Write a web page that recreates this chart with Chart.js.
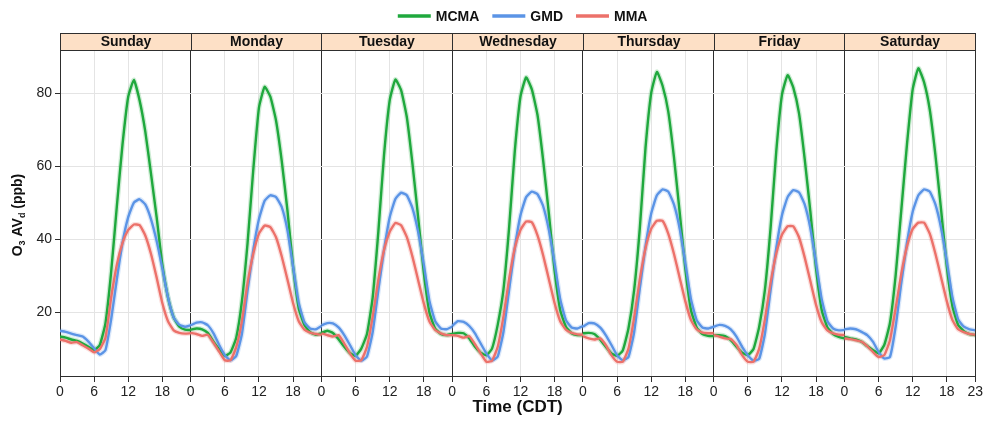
<!DOCTYPE html>
<html>
<head>
<meta charset="utf-8">
<script src="https://cdn.jsdelivr.net/npm/chart.js@4.4.1/dist/chart.umd.min.js"></script>
<style>
html,body{margin:0;padding:0;background:#fff;}
#wrap{position:relative;width:985px;height:421px;}
</style>
</head>
<body>
<div id="wrap"><canvas id="c" width="985" height="421"></canvas></div>
<script>
// ---------- data ----------
const days = ['Sunday','Monday','Tuesday','Wednesday','Thursday','Friday','Saturday'];
const hours = [0,1,2,3,4,5,6,7,8,9,10,11,12,13,14,15,16,17,18,19,20,21,22,23];
const hourTicks = [0,6,12,18];
const lastHourLabel = '23';
const yTickValues = [20,40,60,80];
const seriesNames = ['MCMA','GMD','MMA'];

// one row per day (Sunday..Saturday), hourly values 0..23 (ppb)
const MCMA = [
  [13.3,13.0,12.5,12.1,11.4,10.5,9.6,11.0,17,31,49,66,79,83.6,78,69.5,58,46,33,24,18.5,16,15.2,15.1],
  [15.2,15.5,15.3,14.3,11.9,9.8,8.0,9.0,13,23,39,59,76,81.7,79,72.5,61.5,48,32.5,21,16.5,14.5,13.8,14.2],
  [14.3,14.9,14.3,12.6,10.5,8.8,8.0,10,14,24,42,63,78,83.7,80.8,73.5,60.7,46,30.8,19.8,15.5,14,13.7,14],
  [14,14.3,14.2,12.8,10.5,8.9,8.2,10,16.5,26,43,64,79,84.3,81,74,61.5,47,31.5,20.5,16,14.2,13.7,13.7],
  [14.2,14.3,14,12.5,10.5,8.7,8.0,9.5,15.5,26,43,65,80,85.8,82,75,62.5,47.5,32,20.5,15.8,14,13.5,13.4],
  [13.7,13.7,13.4,12.3,10.5,8.9,8.2,9.9,16,26,43,64,79.5,84.9,81.5,74.5,62,47.5,32,20.5,15.8,14,13.2,12.8],
  [13.2,12.8,12.5,11.9,10.7,9.6,8.7,11,17,30,48,66,81,86.8,83,75.5,63,48,32.5,21.5,16.5,14.8,14,13.7]
];
const GMD = [
  [14.9,14.6,14.1,13.7,13.3,11.9,10.1,8.4,9.6,18,29,39,46,50,50.9,49.5,45.5,39.5,32,24,18.5,16.5,16,16.4],
  [16.4,17.1,17.2,16.4,14.2,11,8.2,6.8,8.0,14,26,37,45.5,50.5,52,51.5,48.8,42.5,32.5,22.5,17.2,15.5,15.3,16.2],
  [16.4,17,16.9,15.8,13.7,11,8.2,6.7,7.8,14.5,26,37,46,51,52.7,52,48.5,42,33,23,17.5,15.5,15.3,16],
  [16.2,17.5,17.3,16.2,14.2,11.4,8.7,6.8,7.8,14.5,26,37.5,46.5,51.5,53,52.3,49,42.5,33.5,23.5,17.8,15.8,15.5,16.2],
  [16,17,16.9,15.8,13.7,11,8.2,6.8,7.7,14.5,26.5,38,47,52,53.6,53,49.5,43,33.5,23.5,17.8,15.8,15.5,16],
  [16,16.5,16.2,15.3,13.3,10.5,8.2,6.7,7.2,14,26,37.5,46.5,51.5,53.4,52.8,49.5,43,33.5,23.5,17.5,15.5,15,15.1],
  [15.3,15.5,15.3,14.6,13.7,11.9,9.1,7.3,7.7,16,28,39,47.5,52,53.6,53,49.5,43,34,24,18,16,15.3,15]
];
const MMA = [
  [12.5,12.1,11.6,11.8,10.9,10,9,9.9,13,24,33,39,42.5,44,43.8,41,36,29.5,22.5,17.5,15,14.3,14.1,14.2],
  [14.3,14,13.5,13.8,11.6,9.2,6.8,6.8,10.4,17.5,28,36,41.5,43.7,43.3,40.5,35.3,29,22.5,17.5,15.2,14.4,14,13.8],
  [14.2,13.7,13.3,13.7,11.4,8.7,6.7,6.8,10.5,18.7,28.8,37,42,44.4,43.8,40.6,35.2,28.8,22.4,17.4,15.1,14.2,13.7,13.7],
  [13.7,13.5,13,13.4,11.2,8.7,6.4,6.7,10.5,18.7,29,37.5,42.5,44.8,44.6,41,35.5,29,22.5,17.5,15.2,14.3,13.9,13.8],
  [13.4,12.8,12.5,12.8,11,8.2,6.4,6.4,10,18.5,29,37.5,42.8,45,45,41.5,36,29.5,23,17.8,15.3,14.4,14.2,14.2],
  [13.7,13.3,12.8,12.6,11,8.2,6.4,6.4,10,18,28,36,41.2,43.5,43.5,40.5,35,28.5,22,17.2,15,14.2,13.8,13.7],
  [12.8,12.6,12.3,11.9,10.7,9.1,7.7,8.2,12.3,21,30.5,38,42.8,44.5,44.5,41.5,36,29.5,23,17.8,15.3,14.5,14,13.8]
];

// ---------- styling ----------
const lineColors = ['#1fa83d','#5b94e6','#ec716a'];
const haloColors = ['rgba(31,168,61,0.22)','rgba(91,148,230,0.22)','rgba(236,113,106,0.22)'];
const FONT = '"Liberation Sans", Arial, Helvetica, sans-serif';
const SPAN = hours[hours.length - 1];        // 23 hours per panel
const XMAX = SPAN * days.length;

function toPoints(byDay) {
  const pts = [];
  byDay.forEach((vals, d) => {
    vals.forEach((v, i) => pts.push({x: d * SPAN + hours[i], y: v}));
    if (d < byDay.length - 1) pts.push({x: d * SPAN + SPAN, y: null});
  });
  return pts;
}

const seriesData = [MCMA, GMD, MMA];
const datasets = [];
// main lines first (drawn on top), halos after (drawn below)
[2,1,0].forEach(i => datasets.push({
  label: seriesNames[i], data: toPoints(seriesData[i]),
  borderColor: lineColors[i], borderWidth: 2.4, pointRadius: 0, spanGaps: false, tension: 0.15,
  borderJoinStyle: 'round'
}));
[2,1,0].forEach(i => datasets.push({
  label: seriesNames[i] + ' band', data: toPoints(seriesData[i]),
  borderColor: haloColors[i], borderWidth: 5, pointRadius: 0, spanGaps: false, tension: 0.15,
  borderJoinStyle: 'round'
}));

const xTickValues = [];
days.forEach((d, i) => hourTicks.forEach(h => xTickValues.push(i * SPAN + h)));
xTickValues.push(XMAX);

const facetPlugin = {
  id: 'facets',
  afterDraw(chart) {
    const {ctx, chartArea, scales: {x}} = chart;
    ctx.save();
    // strips
    const sTop = 33, sBot = chartArea.top;
    days.forEach((day, d) => {
      const x0 = Math.round(x.getPixelForValue(d * SPAN)) + 0.5;
      const x1 = Math.round(x.getPixelForValue(d * SPAN + SPAN)) + 0.5;
      ctx.fillStyle = '#fde0c6';
      ctx.fillRect(x0, sTop + 0.5, x1 - x0, sBot - sTop);
      ctx.strokeStyle = '#2e2e2e'; ctx.lineWidth = 1;
      ctx.strokeRect(x0, sTop + 0.5, x1 - x0, sBot - sTop);
      ctx.fillStyle = '#111';
      ctx.font = 'bold 14px ' + FONT;
      ctx.textAlign = 'center'; ctx.textBaseline = 'middle';
      ctx.fillText(day, (x0 + x1) / 2, (sTop + sBot) / 2 + 1);
    });
    // legend
    ctx.font = 'bold 14px ' + FONT;
    ctx.textBaseline = 'middle'; ctx.textAlign = 'left';
    const lineLen = 33, gap = 5, sep = 13, ly = 16;
    const widths = seriesNames.map(n => ctx.measureText(n).width);
    const total = widths.reduce((a, w) => a + lineLen + gap + w, 0) + sep * (seriesNames.length - 1);
    let lx = (chartArea.left + chartArea.right) / 2 + 5 - total / 2;
    seriesNames.forEach((n, i) => {
      ctx.strokeStyle = lineColors[i]; ctx.lineWidth = 3.5;
      ctx.beginPath(); ctx.moveTo(lx, ly); ctx.lineTo(lx + lineLen, ly); ctx.stroke();
      ctx.fillStyle = '#111';
      ctx.fillText(n, lx + lineLen + gap, ly + 1);
      lx += lineLen + gap + widths[i] + sep;
    });
    // y-axis title with subscripts
    ctx.translate(17, (chartArea.top + chartArea.bottom) / 2 + 2);
    ctx.rotate(-Math.PI / 2);
    const parts = [
      {t: 'O', sub: false}, {t: '3', sub: true}, {t: ' AV', sub: false},
      {t: 'd', sub: true}, {t: ' (ppb)', sub: false}
    ];
    const fontOf = p => p.sub ? 'bold 9px ' + FONT : 'bold 14px ' + FONT;
    let tw = 0;
    parts.forEach(p => { ctx.font = fontOf(p); p.w = ctx.measureText(p.t).width; tw += p.w; });
    let px = -tw / 2;
    ctx.fillStyle = '#111'; ctx.textBaseline = 'alphabetic'; ctx.textAlign = 'left';
    parts.forEach(p => {
      ctx.font = fontOf(p);
      ctx.fillText(p.t, px, p.sub ? 8 : 5);
      px += p.w;
    });
    ctx.restore();
  }
};

new Chart(document.getElementById('c'), {
  type: 'line',
  data: {datasets},
  options: {
    responsive: false,
    animation: false,
    layout: {padding: {top: 50, right: 8, left: 0, bottom: 0}},
    plugins: {legend: {display: false}, tooltip: {enabled: false}},
    elements: {point: {radius: 0}},
    scales: {
      x: {
        type: 'linear', min: 0, max: XMAX,
        afterBuildTicks: s => { s.ticks = xTickValues.map(v => ({value: v})); },
        ticks: {
          autoSkip: false, maxRotation: 0, padding: 2, color: '#222',
          font: {size: 14, family: FONT},
          callback: v => (v === XMAX ? lastHourLabel : String(v % SPAN))
        },
        grid: {
          color: c => (c.tick && c.tick.value % SPAN === 0) ? '#2e2e2e' : '#e4e4e4',
          lineWidth: 1, tickColor: '#2e2e2e', tickLength: 6, drawTicks: true
        },
        border: {display: true, color: '#2e2e2e', width: 1},
        title: {display: true, text: 'Time (CDT)', color: '#111',
                font: {size: 17, weight: 'bold', family: FONT}, padding: {top: 0, bottom: 3}},
        afterFit: s => { s.height = 45; }
      },
      y: {
        min: 2.5, max: 91.8,
        afterBuildTicks: s => { s.ticks = yTickValues.map(v => ({value: v})); },
        ticks: {padding: 3, color: '#222', font: {size: 14, family: FONT}},
        grid: {color: '#e4e4e4', lineWidth: 1, tickColor: '#2e2e2e', tickLength: 5, drawTicks: true},
        border: {display: true, color: '#2e2e2e', width: 1},
        afterFit: s => { s.width = 60; }
      }
    }
  },
  plugins: [facetPlugin]
});
</script>
</body>
</html>
